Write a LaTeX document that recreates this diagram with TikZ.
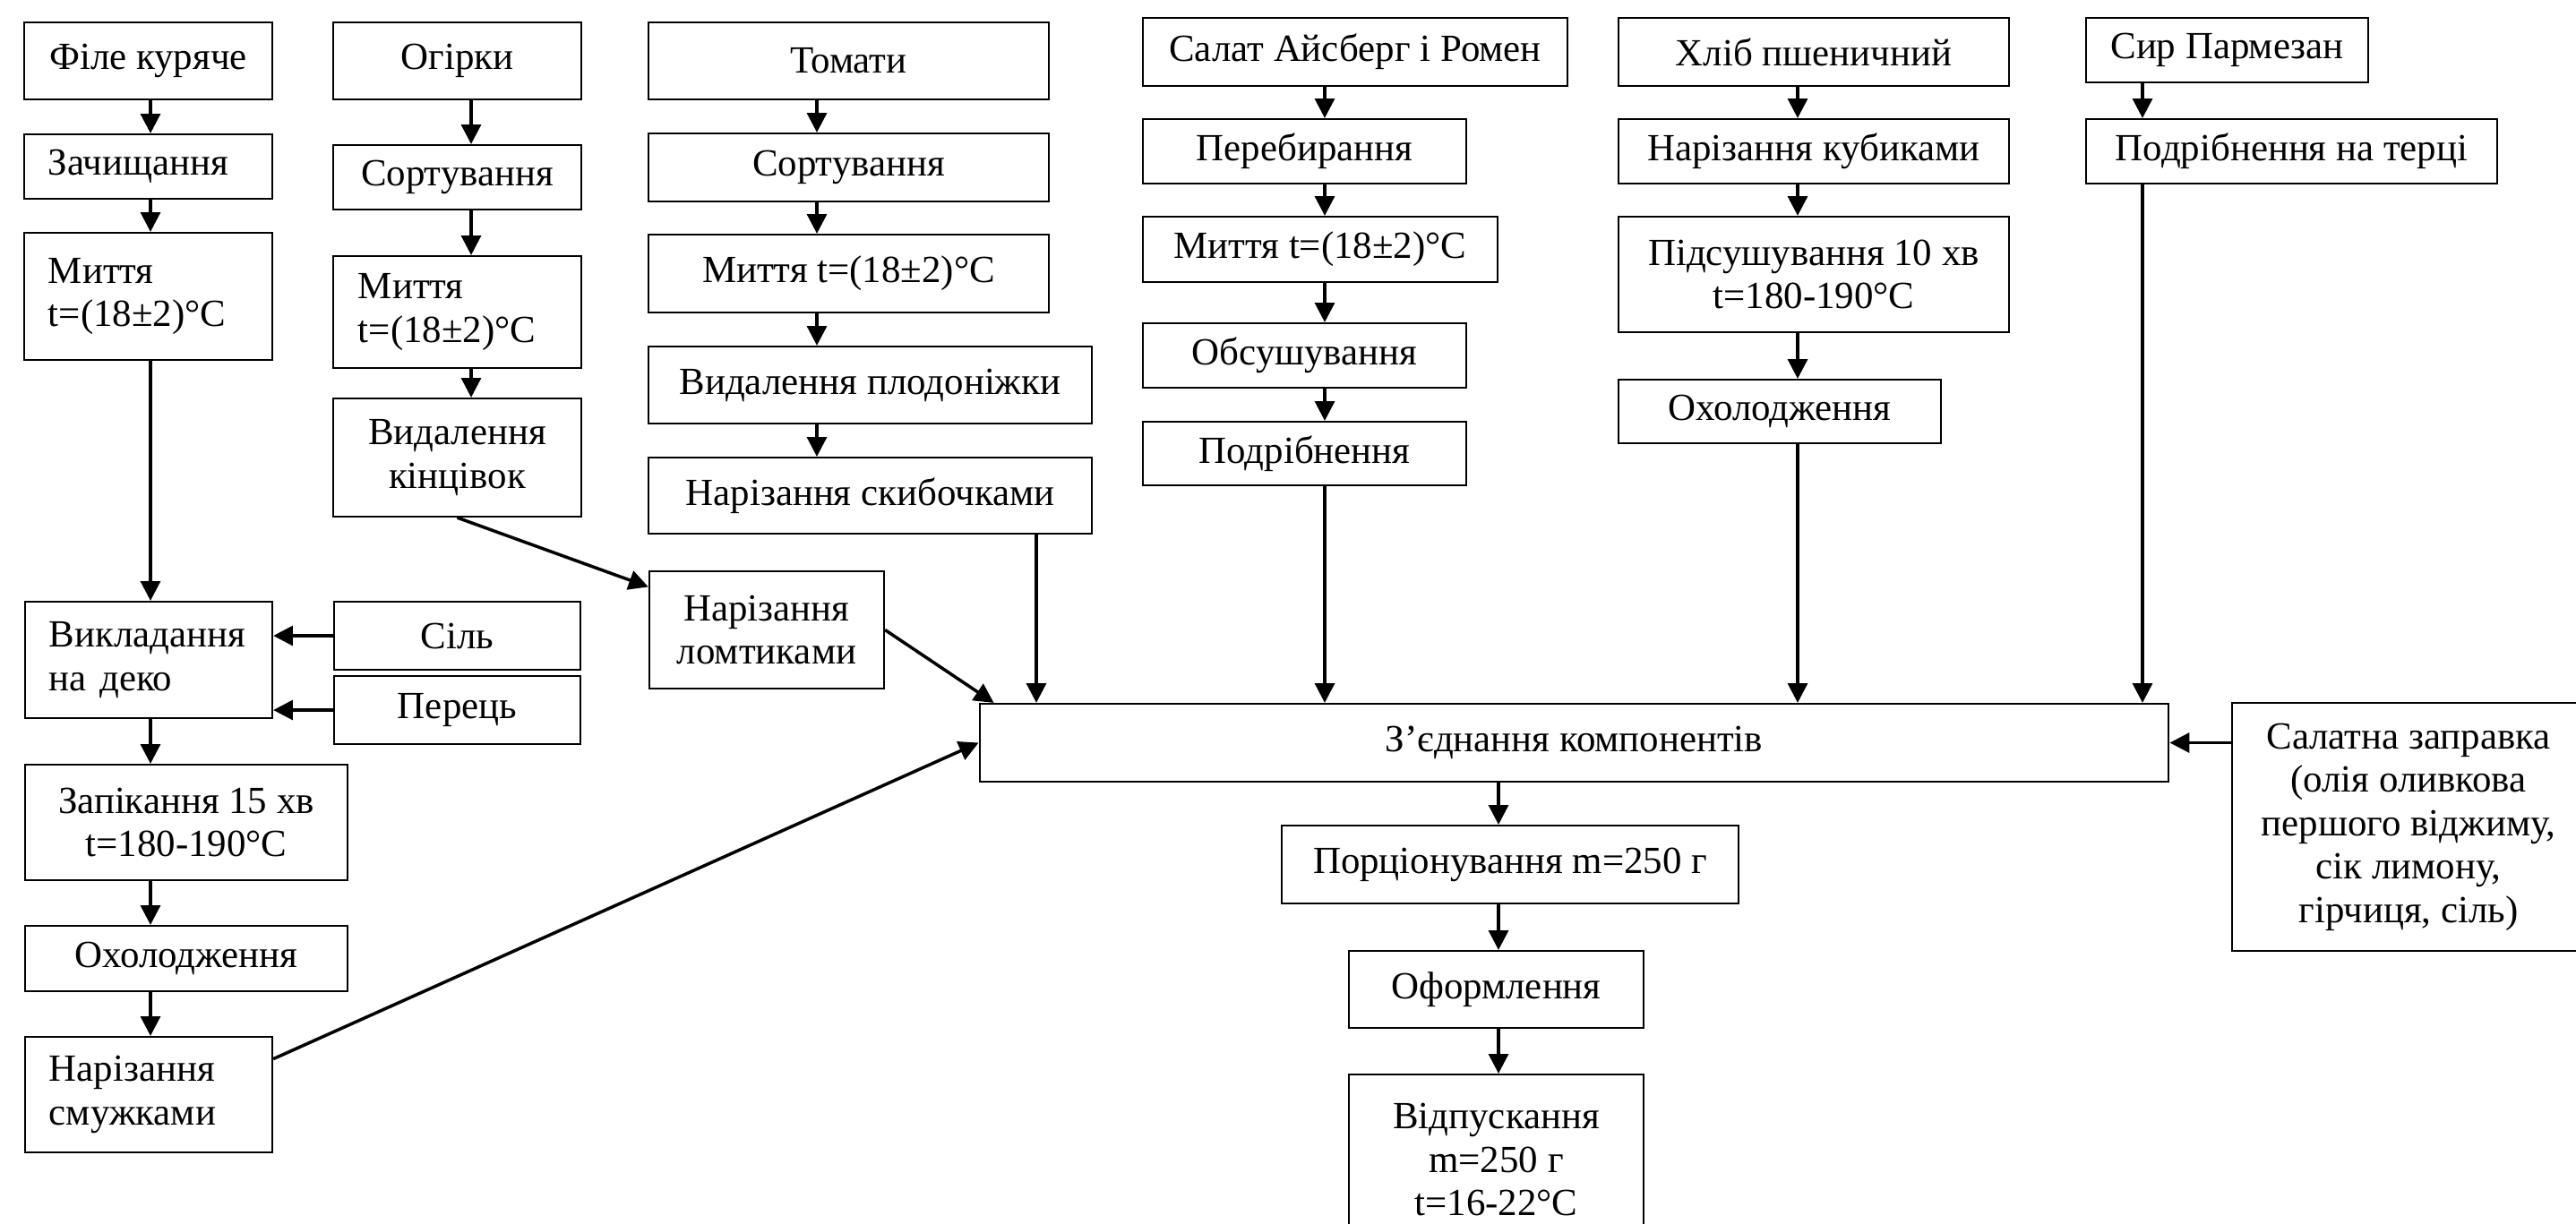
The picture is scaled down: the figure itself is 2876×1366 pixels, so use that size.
\documentclass[tikz,border=0pt]{standalone}
\usepackage{fontspec}
\setmainfont{Liberation Serif}
\usetikzlibrary{arrows.meta}

\begin{document}
\begin{tikzpicture}[x=0.01cm, y=-0.01cm,
        font=\fontsize{12.2}{13.8}\selectfont,
        wh/.style 2 args={minimum width=#1cm, minimum height=#2cm},
        box/.style={draw, line width=0.6pt, inner sep=0pt, align=center},
        lbox/.style={box, align=left, inner xsep=0.27cm},
        arr/.style={-{Triangle[length=6.2pt,width=6.2pt]}, line width=1pt}]
        \useasboundingbox (0,0) rectangle (2876,1366);

        % columns of the arrows
        \coordinate (c1) at (168,0);
        \coordinate (c2) at (526,0);
        \coordinate (c3) at (912,0);
        \coordinate (c3b) at (1157,0);
        \coordinate (c4) at (1479,0);
        \coordinate (c5) at (2007,0);
        \coordinate (c6) at (2392,0);
        \coordinate (c7) at (1673,0);

        % chicken
        \node[box, wh={2.77}{0.86}] (fillet) at (165.5,68) {Філе куряче};
        \node[lbox, wh={2.77}{0.72}, text width=2.23cm] (clean) at (165.5,186) {Зачищання};
        \node[lbox, wh={2.77}{1.42}, text width=2.23cm] (wash1) at (165.5,331) {Миття\\t=(18±2)°C};
        \node[lbox, wh={2.76}{1.30}, text width=2.22cm] (lay) at (166,737) {Викладання\\на деко};
        \node[box, wh={3.60}{1.29}] (bake) at (208,918.5) {Запікання 15 хв\\t=180-190°C};
        \node[box, wh={3.60}{0.73}] (cool1) at (208,1070.5) {Охолодження};
        \node[lbox, wh={2.76}{1.29}, text width=2.22cm] (strips) at (166,1222.5) {Нарізання\\смужками};

        % cucumbers
        \node[box, wh={2.77}{0.86}] (cuc) at (510.5,68) {Огірки};
        \node[box, wh={2.77}{0.72}] (sort2) at (510.5,198) {Сортування};
        \node[lbox, wh={2.77}{1.25}, text width=2.21cm, inner xsep=0.28cm] (wash2) at (510.5,348.5) {Миття\\t=(18±2)°C};
        \node[box, wh={2.77}{1.32}] (ends) at (510.5,511) {Видалення\\кінцівок};
        \node[box, wh={2.75}{0.76}] (salt) at (510.5,710) {Сіль};
        \node[box, wh={2.75}{0.76}] (pepper) at (510.5,793) {Перець};
        \node[box, wh={2.62}{1.31}] (slices) at (856,703.5) {Нарізання\\ломтиками};

        % tomatoes
        \node[box, wh={4.47}{0.86}] (tom) at (947.5,68) {Томати};
        \node[box, wh={4.47}{0.76}] (sort3) at (947.5,187) {Сортування};
        \node[box, wh={4.47}{0.87}] (wash3) at (947.5,305.5) {Миття t=(18±2)°C};
        \node[box, wh={4.95}{0.86}] (stem) at (971.5,430) {Видалення плодоніжки};
        \node[box, wh={4.95}{0.85}] (slab) at (971.5,553.5) {Нарізання скибочками};

        % lettuce
        \node[box, wh={4.74}{0.76}] (lettuce) at (1513,58) {Салат Айсберг і Ромен};
        \node[box, wh={3.61}{0.72}] (pick) at (1456.5,169) {Перебирання};
        \node[box, wh={3.96}{0.73}] (wash4) at (1474,278.5) {Миття t=(18±2)°C};
        \node[box, wh={3.61}{0.72}] (dry) at (1456.5,397) {Обсушування};
        \node[box, wh={3.61}{0.71}] (chop) at (1456.5,506.5) {Подрібнення};

        % bread
        \node[box, wh={4.36}{0.76}] (bread) at (2025,58) {Хліб пшеничний};
        \node[box, wh={4.36}{0.72}] (cubes) at (2025,169) {Нарізання кубиками};
        \node[box, wh={4.36}{1.29}] (toast) at (2025,306.5) {Підсушування 10 хв\\t=180-190°C};
        \node[box, wh={3.60}{0.71}] (cool2) at (1987,459.5) {Охолодження};

        % cheese
        \node[box, wh={3.15}{0.72}] (cheese) at (2486.5,56) {Сир Пармезан};
        \node[box, wh={4.59}{0.72}] (grate) at (2558.5,169) {Подрібнення на терці};

        % assembly
        \node[box, wh={13.27}{0.87}] (join) at (1757.5,829.5) {З’єднання компонентів};
        \node[box, wh={3.94}{2.77}] (dress) at (2689,923.5) {Салатна заправка\\(олія оливкова\\першого віджиму,\\сік лимону,\\гірчиця, сіль)};
        \node[box, wh={5.10}{0.87}] (portion) at (1686,965.5) {Порціонування m=250 г};
        \node[box, wh={3.29}{0.86}] (decor) at (1670.5,1105) {Оформлення};
        \node[box, wh={3.29}{1.90}] (serve) at (1670.5,1295) {Відпускання\\m=250 г\\t=16-22°C};

        \draw[arr] (fillet.south -| c1) -- (clean.north -| c1);
        \draw[arr] (clean.south -| c1) -- (wash1.north -| c1);
        \draw[arr] (wash1.south -| c1) -- (lay.north -| c1);
        \draw[arr] (lay.south -| c1) -- (bake.north -| c1);
        \draw[arr] (bake.south -| c1) -- (cool1.north -| c1);
        \draw[arr] (cool1.south -| c1) -- (strips.north -| c1);
        \draw[arr] (salt.west) -- (salt.west -| lay.east);
        \draw[arr] (pepper.west) -- (pepper.west -| lay.east);
        \draw[arr] (strips.16) -- (join.west);

        \draw[arr] (cuc.south -| c2) -- (sort2.north -| c2);
        \draw[arr] (sort2.south -| c2) -- (wash2.north -| c2);
        \draw[arr] (wash2.south -| c2) -- (ends.north -| c2);
        \draw[arr] (ends.south) -- (slices.160);
        \draw[arr] (slices.east) -- ([xshift=0.17cm]join.north west);

        \draw[arr] (tom.south -| c3) -- (sort3.north -| c3);
        \draw[arr] (sort3.south -| c3) -- (wash3.north -| c3);
        \draw[arr] (wash3.south -| c3) -- (stem.north -| c3);
        \draw[arr] (stem.south -| c3) -- (slab.north -| c3);
        \draw[arr] (slab.south -| c3b) -- (join.north -| c3b);

        \draw[arr] (lettuce.south -| c4) -- (pick.north -| c4);
        \draw[arr] (pick.south -| c4) -- (wash4.north -| c4);
        \draw[arr] (wash4.south -| c4) -- (dry.north -| c4);
        \draw[arr] (dry.south -| c4) -- (chop.north -| c4);
        \draw[arr] (chop.south -| c4) -- (join.north -| c4);

        \draw[arr] (bread.south -| c5) -- (cubes.north -| c5);
        \draw[arr] (cubes.south -| c5) -- (toast.north -| c5);
        \draw[arr] (toast.south -| c5) -- (cool2.north -| c5);
        \draw[arr] (cool2.south -| c5) -- (join.north -| c5);

        \draw[arr] (cheese.south -| c6) -- (grate.north -| c6);
        \draw[arr] (grate.south -| c6) -- (join.north -| c6);

        \draw[arr] (join.east -| dress.west) -- (join.east);
        \draw[arr] (join.south -| c7) -- (portion.north -| c7);
        \draw[arr] (portion.south -| c7) -- (decor.north -| c7);
        \draw[arr] (decor.south -| c7) -- (serve.north -| c7);
    \end{tikzpicture}
\end{document}
